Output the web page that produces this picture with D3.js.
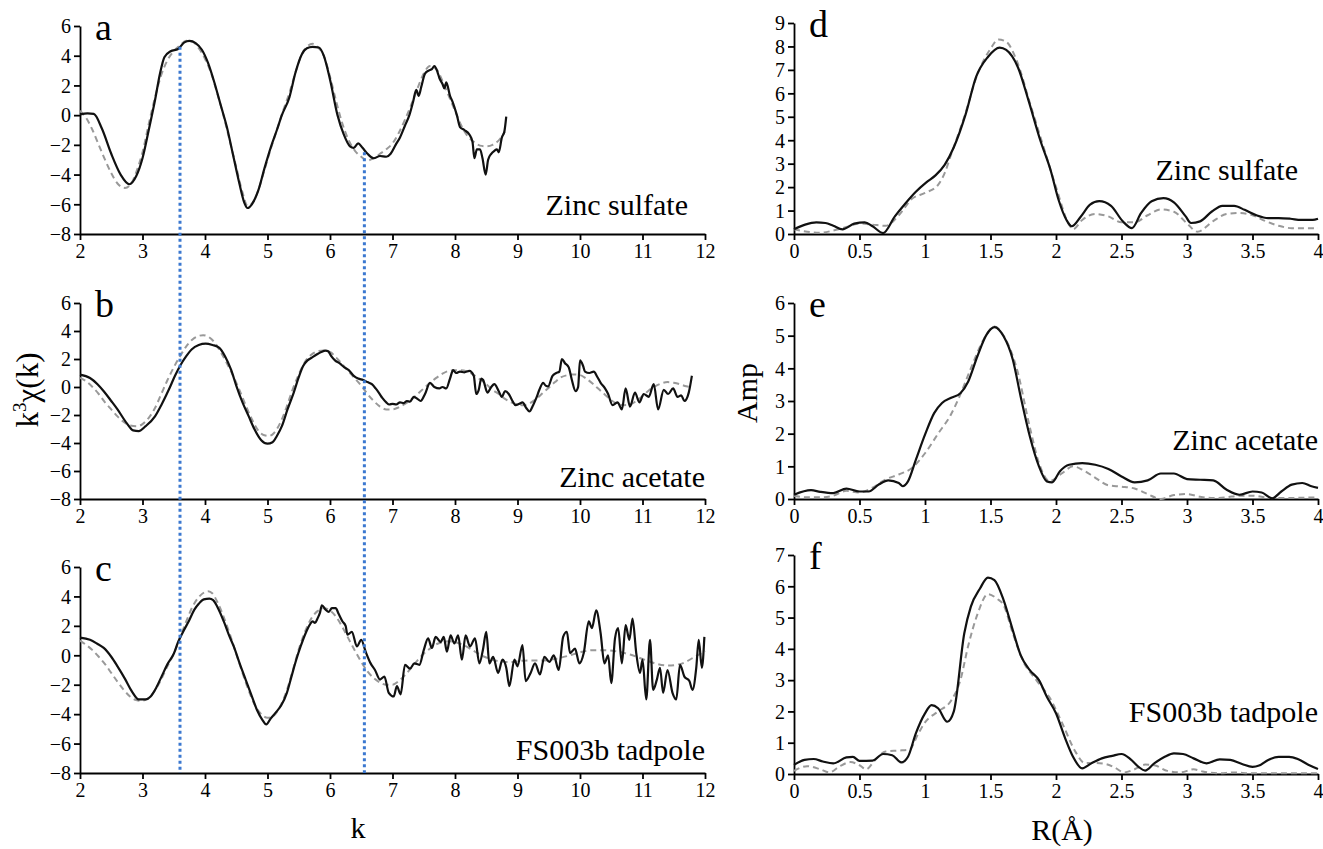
<!DOCTYPE html>
<html>
<head>
<meta charset="utf-8">
<script src="https://cdn.jsdelivr.net/npm/d3@7"></script>
<style>
  body { margin: 0; background: #fff; }
</style>
</head>
<body>
<div id="chart"></div>
<script>
// k-space data: [k, k^3 chi(k)]; experiment (black) and fit (grey dashed)
const zincSulfateK = [[2.0,0.05],[2.12,0.12],[2.22,0.08],[2.35,-0.9],[2.5,-2.6],[2.65,-4.0],[2.79,-4.65],[2.9,-4.1],[3.0,-2.9],[3.1,-1.0],[3.2,1.0],[3.28,2.8],[3.35,3.9],[3.45,4.3],[3.57,4.45],[3.67,4.9],[3.75,5.0],[3.85,4.85],[3.95,4.4],[4.05,3.5],[4.15,2.2],[4.25,0.7],[4.35,-0.8],[4.45,-2.7],[4.55,-4.6],[4.63,-5.9],[4.68,-6.25],[4.75,-6.0],[4.85,-5.1],[4.95,-3.6],[5.05,-2.2],[5.15,-1.0],[5.23,0.0],[5.35,1.2],[5.45,2.9],[5.55,4.1],[5.63,4.5],[5.72,4.6],[5.82,4.55],[5.9,4.0],[6.0,2.4],[6.12,0.0],[6.22,-1.3],[6.32,-2.1],[6.38,-2.2],[6.45,-1.9],[6.52,-2.2],[6.6,-2.6],[6.7,-2.9],[6.8,-2.75],[6.9,-2.8],[6.97,-2.6],[7.05,-2.0],[7.12,-1.5],[7.2,-0.7],[7.27,0.0],[7.33,0.9],[7.38,1.7],[7.42,1.3],[7.46,1.9],[7.52,2.8],[7.58,3.0],[7.63,3.1],[7.67,3.3],[7.72,2.9],[7.75,2.5],[7.8,2.1],[7.83,1.8],[7.86,2.2],[7.92,1.3],[7.97,0.8],[8.03,0.0],[8.08,-0.8],[8.15,-1.0],[8.23,-1.3],[8.28,-1.8],[8.31,-2.9],[8.35,-2.3],[8.4,-2.3],[8.44,-2.9],[8.49,-4.0],[8.53,-3.0],[8.58,-2.6],[8.63,-2.4],[8.67,-2.3],[8.7,-2.5],[8.75,-1.5],[8.79,-1.1],[8.82,-0.1]];
const zincSulfateKFit = [[2.0,0.3],[2.1,-0.2],[2.2,-1.0],[2.3,-2.0],[2.4,-3.0],[2.5,-3.9],[2.6,-4.6],[2.72,-4.9],[2.82,-4.6],[2.92,-3.6],[3.0,-2.5],[3.1,-0.6],[3.2,1.2],[3.3,2.7],[3.4,3.7],[3.5,4.3],[3.6,4.7],[3.7,5.0],[3.8,4.95],[3.9,4.5],[4.0,3.8],[4.1,2.8],[4.2,1.4],[4.3,-0.1],[4.4,-1.8],[4.5,-3.5],[4.6,-5.2],[4.68,-6.1],[4.76,-5.9],[4.85,-5.1],[4.95,-3.7],[5.05,-2.3],[5.15,-1.0],[5.25,0.3],[5.35,1.5],[5.45,2.9],[5.55,4.1],[5.63,4.6],[5.72,4.8],[5.8,4.6],[5.9,4.0],[6.0,2.6],[6.1,0.9],[6.2,-0.6],[6.3,-1.7],[6.4,-2.4],[6.5,-2.8],[6.6,-3.05],[6.7,-2.9],[6.8,-2.6],[6.9,-2.3],[7.0,-1.9],[7.1,-1.2],[7.2,-0.3],[7.3,0.7],[7.4,1.8],[7.5,2.8],[7.6,3.3],[7.7,3.1],[7.8,2.3],[7.9,1.3],[8.0,0.3],[8.1,-0.7],[8.2,-1.4],[8.3,-1.8],[8.4,-2.05],[8.5,-2.1],[8.6,-2.0],[8.7,-1.7],[8.8,-1.1]];

const zincAcetateK = [[2.0,0.88],[2.16,0.64],[2.28,0.2],[2.38,-0.3],[2.5,-1.0],[2.6,-1.6],[2.75,-2.6],[2.85,-3.1],[2.94,-3.15],[3.05,-2.8],[3.2,-2.1],[3.3,-1.3],[3.42,-0.2],[3.52,0.8],[3.6,1.5],[3.7,2.2],[3.79,2.7],[3.9,3.0],[4.01,3.1],[4.12,3.0],[4.23,2.8],[4.32,2.2],[4.42,1.2],[4.5,0.1],[4.6,-1.1],[4.7,-2.1],[4.79,-3.0],[4.9,-3.8],[5.0,-4.05],[5.08,-3.95],[5.15,-3.5],[5.23,-2.8],[5.32,-1.6],[5.42,-0.4],[5.5,0.7],[5.57,1.5],[5.64,1.9],[5.71,2.1],[5.78,2.3],[5.86,2.5],[5.93,2.6],[5.97,2.55],[6.02,2.2],[6.08,1.9],[6.15,1.7],[6.23,1.4],[6.3,1.2],[6.38,0.8],[6.45,0.6],[6.53,0.5],[6.6,0.35],[6.67,0.2],[6.73,-0.1],[6.78,-0.4],[6.84,-0.8],[6.9,-1.1],[6.95,-1.25],[7.0,-1.2],[7.06,-1.25],[7.12,-1.1],[7.18,-1.15],[7.23,-1.0],[7.28,-1.05],[7.34,-0.7],[7.4,-0.85],[7.45,-1.0],[7.52,-0.5],[7.6,0.3],[7.67,0.0],[7.75,-0.1],[7.8,0.0],[7.86,-0.1],[7.92,0.6],[7.97,1.2],[8.02,1.0],[8.08,1.1],[8.15,1.05],[8.23,1.15],[8.3,0.8],[8.34,-0.5],[8.38,-0.2],[8.42,0.6],[8.45,0.5],[8.52,-0.4],[8.58,0.0],[8.63,0.2],[8.7,-0.3],[8.75,-0.7],[8.8,-0.3],[8.86,-0.5],[8.92,-1.0],[8.97,-1.3],[9.03,-1.2],[9.08,-1.1],[9.14,-1.5],[9.19,-1.75],[9.25,-1.3],[9.3,-0.8],[9.35,-0.2],[9.41,0.3],[9.45,0.1],[9.49,0.05],[9.56,0.8],[9.62,1.0],[9.67,1.1],[9.71,2.0],[9.76,1.7],[9.82,1.4],[9.87,0.5],[9.93,-0.3],[9.97,0.0],[10.0,1.9],[10.05,1.5],[10.08,1.1],[10.15,1.0],[10.22,1.1],[10.28,0.7],[10.33,0.3],[10.4,-0.1],[10.45,-0.5],[10.52,-1.3],[10.56,-1.2],[10.6,-1.1],[10.67,-1.6],[10.73,-0.1],[10.8,-1.4],[10.88,-0.4],[10.95,-1.1],[11.02,-0.5],[11.1,-0.7],[11.18,0.2],[11.25,-1.6],[11.34,-0.2],[11.41,-0.5],[11.49,-0.1],[11.56,-0.7],[11.62,-0.6],[11.67,-1.0],[11.74,-0.4],[11.79,0.8]];
const zincAcetateKFit = [[2.0,0.65],[2.1,0.4],[2.2,0.0],[2.3,-0.5],[2.4,-1.1],[2.5,-1.6],[2.6,-2.1],[2.7,-2.5],[2.8,-2.75],[2.92,-2.8],[3.0,-2.65],[3.1,-2.2],[3.2,-1.5],[3.3,-0.5],[3.4,0.5],[3.5,1.4],[3.6,2.2],[3.7,2.9],[3.8,3.4],[3.9,3.65],[3.97,3.7],[4.05,3.6],[4.15,3.2],[4.25,2.5],[4.35,1.7],[4.45,0.8],[4.55,-0.2],[4.65,-1.3],[4.75,-2.3],[4.85,-3.1],[4.95,-3.45],[5.02,-3.5],[5.1,-3.3],[5.2,-2.6],[5.3,-1.5],[5.4,-0.2],[5.5,0.9],[5.6,1.8],[5.7,2.3],[5.8,2.55],[5.9,2.6],[6.0,2.5],[6.1,2.1],[6.2,1.6],[6.3,1.1],[6.4,0.6],[6.5,0.1],[6.6,-0.5],[6.7,-1.0],[6.8,-1.4],[6.9,-1.6],[7.0,-1.6],[7.1,-1.45],[7.2,-1.2],[7.3,-0.9],[7.4,-0.5],[7.5,-0.1],[7.6,0.3],[7.7,0.65],[7.8,0.95],[7.9,1.15],[8.0,1.2],[8.1,1.2],[8.2,1.1],[8.3,0.85],[8.4,0.55],[8.5,0.2],[8.6,-0.2],[8.7,-0.5],[8.8,-0.85],[8.9,-1.1],[9.0,-1.25],[9.1,-1.3],[9.2,-1.15],[9.3,-0.85],[9.4,-0.45],[9.5,-0.05],[9.6,0.35],[9.7,0.7],[9.8,0.85],[9.9,0.9],[10.0,0.85],[10.1,0.6],[10.2,0.25],[10.3,-0.15],[10.4,-0.55],[10.5,-0.95],[10.6,-1.2],[10.7,-1.3],[10.8,-1.25],[10.9,-1.0],[11.0,-0.65],[11.1,-0.25],[11.2,0.05],[11.3,0.25],[11.4,0.35],[11.5,0.3],[11.6,0.2],[11.7,0.05],[11.8,0.0]];

const tadpoleK = [[2.0,1.2],[2.16,1.05],[2.27,0.8],[2.38,0.5],[2.5,-0.1],[2.6,-0.75],[2.72,-1.6],[2.83,-2.45],[2.94,-3.0],[3.05,-3.0],[3.13,-2.8],[3.22,-2.2],[3.31,-1.4],[3.4,-0.6],[3.5,0.1],[3.57,0.9],[3.65,1.6],[3.75,2.4],[3.83,3.1],[3.9,3.5],[3.98,3.8],[4.07,3.85],[4.13,3.75],[4.22,3.1],[4.31,2.2],[4.38,1.4],[4.46,0.6],[4.55,-0.5],[4.65,-1.65],[4.75,-2.8],[4.83,-3.7],[4.92,-4.4],[4.98,-4.7],[5.05,-4.3],[5.13,-3.9],[5.22,-3.4],[5.31,-2.55],[5.38,-1.5],[5.46,-0.3],[5.53,0.6],[5.61,1.5],[5.68,2.1],[5.72,2.3],[5.76,2.2],[5.8,2.5],[5.84,2.9],[5.87,3.4],[5.93,3.1],[5.98,2.95],[6.03,3.2],[6.09,3.2],[6.14,2.8],[6.2,2.3],[6.25,2.0],[6.28,1.4],[6.35,1.6],[6.43,0.6],[6.5,1.05],[6.57,0.25],[6.65,-0.55],[6.72,-1.0],[6.8,-1.65],[6.87,-1.45],[6.94,-2.55],[7.02,-2.8],[7.07,-2.1],[7.13,-2.65],[7.2,-0.65],[7.28,-0.9],[7.35,-0.55],[7.43,-0.65],[7.5,0.35],[7.57,1.15],[7.63,0.5],[7.69,1.25],[7.77,0.9],[7.82,1.25],[7.87,0.25],[7.93,1.35],[7.99,0.8],[8.05,1.35],[8.11,-0.3],[8.17,1.35],[8.24,0.6],[8.32,1.15],[8.39,-0.55],[8.45,0.45],[8.5,1.6],[8.55,-0.55],[8.61,-0.1],[8.69,-1.2],[8.76,-0.3],[8.82,-0.85],[8.87,-2.1],[8.95,-0.3],[9.0,-0.75],[9.08,0.7],[9.13,-1.75],[9.21,-1.2],[9.28,-0.55],[9.36,-1.3],[9.43,-0.1],[9.51,-0.45],[9.58,0.0],[9.66,-1.0],[9.73,1.25],[9.79,1.6],[9.84,0.15],[9.92,0.45],[9.99,-0.55],[10.06,0.15],[10.14,2.3],[10.19,1.85],[10.26,3.05],[10.33,1.5],[10.39,-0.55],[10.45,0.0],[10.5,-1.9],[10.56,1.15],[10.61,1.85],[10.67,-0.55],[10.73,2.05],[10.79,1.05],[10.84,2.5],[10.9,0.15],[10.96,-1.2],[11.0,-0.3],[11.06,-3.0],[11.12,1.05],[11.17,-2.35],[11.23,-1.65],[11.28,-0.85],[11.33,-2.55],[11.4,-1.0],[11.48,-2.55],[11.54,-3.0],[11.6,-0.65],[11.67,-1.45],[11.75,-1.75],[11.8,-2.35],[11.86,-0.85],[11.9,1.05],[11.95,-0.85],[11.99,1.25]];
const tadpoleKFit = [[2.0,1.0],[2.1,0.7],[2.2,0.35],[2.3,-0.1],[2.4,-0.6],[2.5,-1.2],[2.6,-1.8],[2.7,-2.35],[2.8,-2.8],[2.9,-3.05],[2.98,-3.1],[3.08,-2.95],[3.18,-2.5],[3.28,-1.8],[3.38,-0.9],[3.5,0.1],[3.6,1.2],[3.7,2.3],[3.8,3.3],[3.9,3.95],[4.0,4.3],[4.05,4.35],[4.12,4.2],[4.2,3.6],[4.3,2.6],[4.4,1.4],[4.5,0.1],[4.6,-1.2],[4.7,-2.4],[4.8,-3.4],[4.9,-4.0],[5.0,-4.25],[5.1,-4.1],[5.2,-3.5],[5.3,-2.5],[5.4,-1.1],[5.5,0.4],[5.6,1.6],[5.7,2.5],[5.8,3.0],[5.9,3.2],[6.0,3.05],[6.1,2.6],[6.2,1.9],[6.3,1.1],[6.4,0.3],[6.5,-0.45],[6.6,-1.1],[6.7,-1.55],[6.8,-1.85],[6.9,-2.0],[7.0,-2.0],[7.1,-1.75],[7.2,-1.35],[7.3,-0.85],[7.4,-0.35],[7.5,0.1],[7.6,0.45],[7.7,0.75],[7.8,0.9],[7.9,0.95],[8.0,0.9],[8.1,0.75],[8.2,0.55],[8.3,0.3],[8.4,0.05],[8.5,-0.15],[8.6,-0.3],[8.7,-0.4],[8.8,-0.45],[8.9,-0.45],[9.0,-0.4],[9.2,-0.35],[9.4,-0.35],[9.6,-0.25],[9.8,-0.05],[10.0,0.2],[10.2,0.35],[10.4,0.35],[10.6,0.25],[10.8,0.05],[11.0,-0.25],[11.2,-0.55],[11.4,-0.7],[11.6,-0.6],[11.8,-0.2],[12.0,0.3]];

// R-space data: [R, amplitude]
const zincSulfateR = [[0,0.2],[0.085,0.4],[0.17,0.5],[0.24,0.47],[0.3,0.35],[0.37,0.2],[0.46,0.44],[0.54,0.5],[0.6,0.33],[0.68,0.04],[0.77,0.75],[0.85,1.3],[0.93,1.8],[1.01,2.2],[1.08,2.5],[1.15,2.95],[1.22,3.7],[1.31,5.1],[1.39,6.7],[1.48,7.55],[1.57,7.95],[1.62,7.85],[1.71,7.1],[1.79,5.7],[1.88,4.0],[1.96,2.7],[2.02,1.45],[2.08,0.6],[2.12,0.33],[2.19,0.75],[2.26,1.25],[2.33,1.4],[2.42,1.2],[2.51,0.54],[2.58,0.25],[2.65,0.9],[2.73,1.4],[2.82,1.53],[2.9,1.35],[2.99,0.75],[3.03,0.47],[3.1,0.54],[3.19,0.96],[3.27,1.2],[3.36,1.2],[3.44,1.03],[3.53,0.8],[3.62,0.68],[3.7,0.68],[3.79,0.65],[3.87,0.6],[3.96,0.6],[4.0,0.65]];
const zincSulfateRFit = [[0,0.2],[0.1,0.1],[0.2,0.05],[0.3,0.15],[0.4,0.3],[0.5,0.45],[0.6,0.4],[0.7,0.35],[0.8,0.8],[0.9,1.5],[1.0,1.75],[1.1,2.1],[1.15,2.6],[1.2,3.4],[1.3,5.0],[1.4,6.8],[1.5,7.9],[1.56,8.3],[1.62,8.2],[1.7,7.4],[1.8,5.6],[1.9,3.8],[2.0,2.0],[2.1,0.4],[2.13,0.2],[2.2,0.6],[2.3,0.85],[2.4,0.75],[2.5,0.5],[2.6,0.5],[2.7,0.8],[2.8,1.05],[2.9,0.95],[3.0,0.45],[3.08,0.1],[3.2,0.55],[3.3,0.85],[3.4,0.9],[3.5,0.8],[3.6,0.55],[3.7,0.35],[3.8,0.25],[4.0,0.25]];

const zincAcetateR = [[0,0.13],[0.13,0.27],[0.2,0.22],[0.3,0.18],[0.4,0.32],[0.5,0.23],[0.57,0.23],[0.65,0.45],[0.72,0.57],[0.8,0.49],[0.83,0.39],[0.87,0.54],[0.93,1.2],[1.0,1.97],[1.07,2.63],[1.13,2.94],[1.2,3.1],[1.27,3.24],[1.33,3.6],[1.4,4.37],[1.47,5.03],[1.53,5.26],[1.6,4.98],[1.67,4.27],[1.73,3.14],[1.8,1.92],[1.87,1.0],[1.93,0.54],[1.97,0.51],[2.03,0.85],[2.1,1.05],[2.2,1.1],[2.3,1.05],[2.4,0.92],[2.5,0.69],[2.6,0.51],[2.7,0.57],[2.8,0.78],[2.9,0.78],[3.0,0.61],[3.1,0.59],[3.2,0.57],[3.3,0.29],[3.4,0.13],[3.5,0.23],[3.57,0.2],[3.65,0.02],[3.72,0.23],[3.8,0.44],[3.88,0.49],[3.95,0.39],[4.0,0.34]];
const zincAcetateRFit = [[0,0.1],[0.1,0.05],[0.2,0.05],[0.3,0.1],[0.4,0.25],[0.5,0.2],[0.6,0.35],[0.7,0.6],[0.8,0.75],[0.9,0.95],[1.0,1.4],[1.1,2.0],[1.2,2.6],[1.27,3.2],[1.35,4.0],[1.45,4.9],[1.53,5.28],[1.6,5.0],[1.7,4.0],[1.8,2.2],[1.87,1.1],[1.95,0.55],[2.05,0.8],[2.13,1.0],[2.2,0.9],[2.3,0.65],[2.4,0.42],[2.5,0.38],[2.6,0.32],[2.7,0.15],[2.8,0.0],[2.9,0.12],[3.0,0.15],[3.1,0.07],[3.2,0.03],[3.3,0.05],[3.4,0.1],[3.5,0.1],[3.6,0.05],[3.7,0.03],[4.0,0.05]];

const tadpoleR = [[0,0.29],[0.08,0.45],[0.15,0.48],[0.22,0.4],[0.3,0.34],[0.4,0.53],[0.45,0.55],[0.5,0.42],[0.6,0.43],[0.68,0.64],[0.75,0.6],[0.82,0.37],[0.87,0.55],[0.93,1.3],[1.0,1.94],[1.05,2.2],[1.1,2.1],[1.17,1.67],[1.22,2.0],[1.3,4.5],[1.35,5.35],[1.42,5.93],[1.48,6.28],[1.53,6.2],[1.6,5.56],[1.67,4.6],[1.73,3.8],[1.8,3.32],[1.87,3.0],[1.93,2.47],[2.0,1.94],[2.07,1.14],[2.13,0.55],[2.2,0.18],[2.27,0.34],[2.35,0.5],[2.43,0.58],[2.5,0.64],[2.57,0.47],[2.63,0.23],[2.68,0.11],[2.75,0.34],[2.83,0.55],[2.9,0.66],[2.97,0.64],[3.05,0.5],[3.15,0.34],[3.25,0.47],[3.33,0.45],[3.42,0.32],[3.5,0.23],[3.55,0.27],[3.62,0.45],[3.7,0.55],[3.78,0.55],[3.85,0.47],[3.93,0.29],[4.0,0.16]];
const tadpoleRFit = [[0,0.1],[0.1,0.25],[0.2,0.15],[0.27,0.05],[0.35,0.25],[0.43,0.38],[0.5,0.28],[0.55,0.15],[0.62,0.45],[0.7,0.72],[0.8,0.75],[0.88,0.78],[0.95,1.3],[1.0,1.65],[1.1,2.0],[1.2,2.35],[1.27,3.0],[1.33,4.1],[1.4,5.1],[1.48,5.75],[1.55,5.6],[1.6,5.4],[1.67,4.5],[1.75,3.6],[1.85,3.0],[1.95,2.45],[2.05,1.6],[2.15,0.7],[2.22,0.35],[2.3,0.35],[2.38,0.32],[2.45,0.2],[2.52,0.05],[2.6,0.15],[2.68,0.3],[2.75,0.28],[2.85,0.1],[2.95,0.05],[3.05,0.15],[3.12,0.08],[3.25,0.02],[3.35,0.05],[3.5,0.02],[4.0,0.02]];

// tick values
const kTicks = [2,3,4,5,6,7,8,9,10,11,12];
const chiTicks = [-8,-6,-4,-2,0,2,4,6];
const rTicks = [0,0.5,1,1.5,2,2.5,3,3.5,4];

// blue dotted marker lines: k position and value where they start in panel a
const markerK = [3.6, 6.55];
const markerTop = [4.6, -2.5];

const serif = "'Liberation Serif', 'Times New Roman', Times, 'DejaVu Serif', serif";

const svg = d3.select("#chart")
    .append("svg")
    .attr("width", 1323)
    .attr("height", 849)
    .attr("font-family", serif);

//Draws one panel and returns its scales
function drawPanel(p) {
    const x = d3.scaleLinear().domain(p.xDomain).range([p.left, p.right]);
    const y = d3.scaleLinear().domain(p.yDomain).range([p.bottom, p.top]);
    const g = svg.append("g");

    g.append("g")
        .attr("transform", `translate(0,${p.bottom})`)
        .call(d3.axisBottom(x).tickValues(p.xTicks).tickSize(6).tickSizeOuter(0).tickPadding(4)
            .tickFormat(d3.format("")))
        .attr("font-family", serif)
        .attr("font-size", 20)
        .call(a => a.selectAll("text").attr("fill", "#000"));

    g.append("g")
        .attr("transform", `translate(${p.left},0)`)
        .call(d3.axisLeft(y).tickValues(p.yTicks).tickSize(6).tickSizeOuter(0).tickPadding(3)
            .tickFormat(d3.format("")))
        .attr("font-family", serif)
        .attr("font-size", 20)
        .call(a => a.selectAll("text").attr("fill", "#000").attr("dy", "0.34em"));

    g.selectAll(".domain, .tick line").attr("stroke", "#000").attr("stroke-width", 1.8);

    const line = d3.line()
        .x(d => x(d[0]))
        .y(d => y(d[1]))
        .curve(d3.curveMonotoneX);

    g.append("path")
        .datum(p.fit)
        .attr("fill", "none")
        .attr("stroke", "#999")
        .attr("stroke-width", 2)
        .attr("stroke-dasharray", "6,4")
        .attr("d", line);

    g.append("path")
        .datum(p.exp)
        .attr("fill", "none")
        .attr("stroke", "#111")
        .attr("stroke-width", 2.2)
        .attr("stroke-linejoin", "round")
        .attr("d", line);

    //panel letter
    g.append("text")
        .attr("x", p.left + 15)
        .attr("y", p.top + 14)
        .attr("font-size", 38)
        .text(p.letter);

    //sample name
    g.append("text")
        .attr("x", p.nameX)
        .attr("y", p.nameY)
        .attr("text-anchor", "end")
        .attr("font-size", 30)
        .text(p.name);

    return {x, y};
}

const L = {left: 80, right: 705};
const R = {left: 794, right: 1318};

const pa = drawPanel({...L, top: 26, bottom: 234, xDomain: [2, 12], yDomain: [-8, 6],
    xTicks: kTicks, yTicks: chiTicks, exp: zincSulfateK, fit: zincSulfateKFit,
    letter: "a", name: "Zinc sulfate", nameX: 688, nameY: 215});
drawPanel({...L, top: 303, bottom: 499, xDomain: [2, 12], yDomain: [-8, 6],
    xTicks: kTicks, yTicks: chiTicks, exp: zincAcetateK, fit: zincAcetateKFit,
    letter: "b", name: "Zinc acetate", nameX: 705, nameY: 487});
const pc = drawPanel({...L, top: 567, bottom: 773, xDomain: [2, 12], yDomain: [-8, 6],
    xTicks: kTicks, yTicks: chiTicks, exp: tadpoleK, fit: tadpoleKFit,
    letter: "c", name: "FS003b tadpole", nameX: 705, nameY: 760});

drawPanel({...R, top: 23, bottom: 234, xDomain: [0, 4], yDomain: [0, 9],
    xTicks: rTicks, yTicks: d3.range(0, 10), exp: zincSulfateR, fit: zincSulfateRFit,
    letter: "d", name: "Zinc sulfate", nameX: 1298, nameY: 180});
drawPanel({...R, top: 303, bottom: 499, xDomain: [0, 4], yDomain: [0, 6],
    xTicks: rTicks, yTicks: d3.range(0, 7), exp: zincAcetateR, fit: zincAcetateRFit,
    letter: "e", name: "Zinc acetate", nameX: 1318, nameY: 450});
drawPanel({...R, top: 555, bottom: 774, xDomain: [0, 4], yDomain: [0, 7],
    xTicks: rTicks, yTicks: d3.range(0, 8), exp: tadpoleR, fit: tadpoleRFit,
    letter: "f", name: "FS003b tadpole", nameX: 1318, nameY: 722});

//Blue dotted guides through panels a-c
markerK.forEach((k, i) => {
    svg.append("line")
        .attr("x1", pa.x(k)).attr("x2", pa.x(k))
        .attr("y1", pa.y(markerTop[i]))
        .attr("y2", pc.y(-8))
        .attr("stroke", "#3b78d0")
        .attr("stroke-width", 3)
        .attr("stroke-dasharray", "3,3");
});

//Axis titles
svg.append("text")
    .attr("x", 358).attr("y", 838)
    .attr("text-anchor", "middle")
    .attr("font-size", 30)
    .text("k");

svg.append("text")
    .attr("x", 1062).attr("y", 840)
    .attr("text-anchor", "middle")
    .attr("font-size", 30)
    .text("R(Å)");

const yk = svg.append("text")
    .attr("transform", "translate(38,390) rotate(-90)")
    .attr("text-anchor", "middle")
    .attr("font-size", 31);
yk.append("tspan").text("k");
yk.append("tspan").attr("font-size", 19).attr("dy", -12).text("3");
yk.append("tspan").attr("dy", 12).text("χ(k)");

svg.append("text")
    .attr("transform", "translate(757,393) rotate(-90)")
    .attr("text-anchor", "middle")
    .attr("font-size", 30)
    .text("Amp");
</script>
</body>
</html>
